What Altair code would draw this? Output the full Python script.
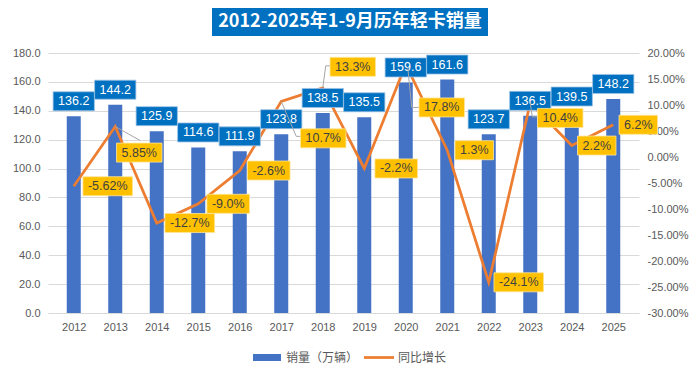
import altair as alt
import pandas as pd

# ---------------- data ----------------
years = [2012, 2013, 2014, 2015, 2016, 2017, 2018, 2019, 2020, 2021, 2022, 2023, 2024, 2025]
sales = [136.2, 144.2, 125.9, 114.6, 111.9, 123.8, 138.5, 135.5, 159.6, 161.6, 123.7, 136.5, 139.5, 148.2]
sales_labels = ["136.2", "144.2", "125.9", "114.6", "111.9", "123.8", "138.5",
                "135.5", "159.6", "161.6", "123.7", "136.5", "139.5", "148.2"]
growth = [-5.62, 5.85, -12.7, -9.0, -2.6, 10.7, 13.3, -2.2, 17.8, 1.3, -24.1, 10.4, 2.2, 6.2]
growth_labels = ["-5.62%", "5.85%", "-12.7%", "-9.0%", "-2.6%", "10.7%", "13.3%",
                 "-2.2%", "17.8%", "1.3%", "-24.1%", "10.4%", "2.2%", "6.2%"]
title_text = "2012-2025年1-9月历年轻卡销量"
legend_labels = ["销量（万辆）", "同比增长"]
left_ticks = [0, 20, 40, 60, 80, 100, 120, 140, 160, 180]
right_ticks = [-0.30, -0.25, -0.20, -0.15, -0.10, -0.05, 0.0, 0.05, 0.10, 0.15, 0.20]

# ---------------- layout (label nudges in px) ----------------
label_nudge = {2012: (34, 0), 2013: (24, 26), 2014: (33, 0), 2015: (30, 0), 2016: (29, 0),
               2017: (42, 37), 2018: (30, -21), 2019: (32, 0), 2020: (36, 43), 2021: (27, 0),
               2022: (30, 0), 2023: (30, 15), 2024: (25, 0), 2025: (25, 0)}
leaders = {
    2013: [((0, 0), (25, 14))],
    2017: [((0, 0), (15, 35)), ((15, 35), (22, 35))],
    2018: [((0, 0), (3, -22)), ((3, -22), (10, -22))],
    2020: [((2, 3), (6, 43)), ((6, 43), (16, 43))],
    2023: [((0, 0), (2, 14)), ((2, 14), (9, 14))],
}

BLUE_BAR = "#4472C4"
ORANGE = "#ED7D31"
LABEL_BLUE = "#0070C0"
LABEL_GOLD = "#FFC000"
GRAY_TXT = "#595959"
FONT = "Liberation Sans"
CJK = "Noto Sans CJK SC"
FS = 12.5

df = pd.DataFrame({
    "year": years,
    "sales": sales,
    "slabel": sales_labels,
    "pct": [g / 100 for g in growth],
    "plabel": growth_labels,
})
one = pd.DataFrame({"a": [0]})


def text_w(s, fs):
    w = 0
    for ch in s:
        if ch.isdigit():
            w += 0.556
        elif ch == ".":
            w += 0.278
        elif ch == "%":
            w += 0.889
        elif ch == "-":
            w += 0.333
        else:
            w += 0.6
    return w * fs


def box_path(w, h, r=10.0):
    hw = w / 2 / r
    hh = h / 2 / r
    return f"M{-hw:.3f},{-hh:.3f}L{hw:.3f},{-hh:.3f}L{hw:.3f},{hh:.3f}L{-hw:.3f},{hh:.3f}Z"


def x_enc():
    return alt.X("year:Q",
                 scale=alt.Scale(domain=[2011.5, 2025.5], nice=False, zero=False),
                 axis=alt.Axis(values=years, format="d", title=None, grid=False, ticks=False,
                               domainColor="#D9D9D9", labelColor=GRAY_TXT, labelFontSize=11,
                               labelFont=FONT, labelPadding=8, labelFlush=False, labelAngle=0))


left_scale = alt.Scale(domain=[0, 180], nice=False)
right_scale = alt.Scale(domain=[-0.30, 0.20], nice=False, zero=False)

# ---------- bars (left axis) ----------
bars = alt.Chart(df).mark_bar(color=BLUE_BAR, size=14).encode(
    x=x_enc(),
    y=alt.Y("sales:Q", scale=left_scale,
            axis=alt.Axis(orient="left", values=left_ticks, format=".1f", title=None,
                          domain=False, ticks=False, gridColor="#D9D9D9", labelColor=GRAY_TXT,
                          labelFontSize=11, labelFont=FONT, labelPadding=8)),
)

# ---------- line (right axis) ----------
line = alt.Chart(df).mark_line(color=ORANGE, strokeWidth=2.75).encode(
    x=x_enc(),
    y=alt.Y("pct:Q", scale=right_scale,
            axis=alt.Axis(orient="right", values=right_ticks, title=None, grid=False,
                          domain=False, ticks=False, labelColor=GRAY_TXT, labelFontSize=11,
                          labelFont=FONT, labelPadding=8,
                          labelExpr="(datum.value < -0.000001 ? '-' : '') + format(abs(datum.value), '.2%')")),
)

# ---------- bar labels ----------
bw = text_w("136.2", FS) + 10
bar_box = alt.Chart(df).mark_point(shape=box_path(bw, 19), size=400, filled=True,
                                   fill=LABEL_BLUE, stroke="#9DC3E6", strokeWidth=0.8,
                                   opacity=1, yOffset=-15).encode(
    x=x_enc(), y=alt.Y("sales:Q", scale=left_scale, axis=None))
bar_txt = alt.Chart(df).mark_text(font=FONT, fontSize=FS, color="white", align="center",
                                  baseline="middle", yOffset=-15).encode(
    x=x_enc(), y=alt.Y("sales:Q", scale=left_scale, axis=None), text="slabel:N")
bar_labels = alt.layer(bar_box, bar_txt)

# ---------- growth labels ----------
p_layers = []
for yr, lab in zip(years, growth_labels):
    sub = alt.Chart(df).transform_filter(alt.datum.year == yr)
    for (a, b) in leaders.get(yr, []):
        p_layers.append(sub.mark_rule(color="#A6A6A6", strokeWidth=1,
                                      xOffset=a[0], yOffset=a[1], x2Offset=b[0], y2Offset=b[1]).encode(
            x=x_enc(), y=alt.Y("pct:Q", scale=right_scale, axis=None),
            x2="year:Q", y2="pct:Q"))
for yr, lab in zip(years, growth_labels):
    dx, dy = label_nudge[yr]
    sub = alt.Chart(df).transform_filter(alt.datum.year == yr)
    pw = text_w(lab, FS) + 10
    p_layers.append(sub.mark_point(shape=box_path(pw, 19), size=400, filled=True,
                                   fill=LABEL_GOLD, stroke="#FFE699", strokeWidth=0.8,
                                   opacity=1, xOffset=dx, yOffset=dy).encode(
        x=x_enc(), y=alt.Y("pct:Q", scale=right_scale, axis=None)))
    p_layers.append(sub.mark_text(font=FONT, fontSize=FS, color="#404040", align="center",
                                  baseline="middle", xOffset=dx, yOffset=dy).encode(
        x=x_enc(), y=alt.Y("pct:Q", scale=right_scale, axis=None), text="plabel:N"))
pct_labels = alt.layer(*p_layers)

# ---------- title ----------
title_box = alt.Chart(one).mark_rect(color=LABEL_BLUE).encode(
    x=alt.value(164), x2=alt.value(440), y=alt.value(-45), y2=alt.value(-17))
title_txt = alt.Chart(one).mark_text(font=CJK, fontSize=18, fontWeight="bold", color="white",
                                     align="center", baseline="middle").encode(
    x=alt.value(302), y=alt.value(-31), text=alt.value(title_text))

# ---------- legend ----------
leg_rect = alt.Chart(one).mark_rect(color=BLUE_BAR).encode(
    x=alt.value(205), x2=alt.value(233), y=alt.value(301), y2=alt.value(308))
leg_t1 = alt.Chart(one).mark_text(font=CJK, fontSize=12, color=GRAY_TXT, align="left",
                                  baseline="middle").encode(
    x=alt.value(238), y=alt.value(304.5), text=alt.value(legend_labels[0]))
leg_line = alt.Chart(one).mark_rule(color=ORANGE, strokeWidth=2.75).encode(
    x=alt.value(316), x2=alt.value(346), y=alt.value(304.5))
leg_t2 = alt.Chart(one).mark_text(font=CJK, fontSize=12, color=GRAY_TXT, align="left",
                                  baseline="middle").encode(
    x=alt.value(350), y=alt.value(304.5), text=alt.value(legend_labels[1]))

chart = alt.layer(
    bars, line, bar_labels, pct_labels,
    title_box, title_txt, leg_rect, leg_t1, leg_line, leg_t2,
).resolve_scale(y="independent").properties(
    width=591, height=260,
    autosize=alt.AutoSizeParams(type="none"),
    padding={"left": 40, "top": 45, "right": 53, "bottom": 57},
    background="white",
).configure_view(stroke=None)

chart.save("out.html", embed_options={"renderer": "svg", "actions": False})
